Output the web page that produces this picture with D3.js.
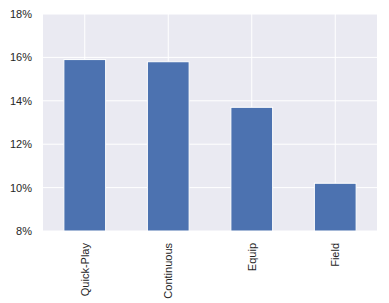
<!DOCTYPE html>
<html>
<head>
<meta charset="utf-8">
<script src="https://cdn.jsdelivr.net/npm/d3@7"></script>
<style>
  html, body { margin: 0; padding: 0; background: #fff; }
  svg { display: block; }
  text { font-family: "Liberation Sans", Arial, sans-serif; fill: #262626; }
</style>
</head>
<body>
<div id="chart"></div>
<script>
// Data
const categories = ['Quick-Play', 'Continuous', 'Equip', 'Field'];
const values = [15.9, 15.8, 13.7, 10.2];
const yTicks = [8, 10, 12, 14, 16, 18];

const width = 389, height = 303;
const margin = { top: 14, right: 12, bottom: 72, left: 43 };
const innerW = width - margin.left - margin.right;
const innerH = height - margin.top - margin.bottom;

const svg = d3.select('#chart').append('svg')
    .attr('width', width)
    .attr('height', height);

const g = svg.append('g')
    .attr('transform', `translate(${margin.left},${margin.top})`);

const x = d3.scaleBand()
    .domain(categories)
    .range([0, innerW])
    .paddingInner(0.5)
    .paddingOuter(0.25);

const y = d3.scaleLinear()
    .domain([8, 18])
    .range([innerH, 0]);

// background
g.append('rect')
    .attr('width', innerW)
    .attr('height', innerH)
    .attr('fill', '#eaeaf2');

// grid lines
g.selectAll('.hgrid').data(yTicks).enter().append('line')
    .attr('x1', 0).attr('x2', innerW)
    .attr('y1', d => y(d)).attr('y2', d => y(d))
    .attr('stroke', '#fff').attr('stroke-width', 1);

g.selectAll('.vgrid').data(categories).enter().append('line')
    .attr('y1', 0).attr('y2', innerH)
    .attr('x1', d => x(d) + x.bandwidth() / 2)
    .attr('x2', d => x(d) + x.bandwidth() / 2)
    .attr('stroke', '#fff').attr('stroke-width', 1);

// bars
g.selectAll('.bar').data(values).enter().append('rect')
    .attr('x', (d, i) => x(categories[i]))
    .attr('y', d => y(d))
    .attr('width', x.bandwidth())
    .attr('height', d => innerH - y(d))
    .attr('fill', '#4c72b0')
    .attr('stroke', '#fff')
    .attr('stroke-width', 1);

// y axis
const yAxis = g.append('g')
    .call(d3.axisLeft(y).tickValues(yTicks).tickFormat(d => d + '%').tickSize(0).tickPadding(11));
yAxis.select('.domain').remove();
yAxis.selectAll('text')
    .attr('font-size', 11)
    .attr('fill', '#262626')
    .style('font-family', '"Liberation Sans", Arial, sans-serif');

// x axis
const xAxis = g.append('g')
    .attr('transform', `translate(0,${innerH})`)
    .call(d3.axisBottom(x).tickSize(0));
xAxis.select('.domain').remove();
xAxis.selectAll('text')
    .attr('font-size', 11)
    .attr('fill', '#262626')
    .style('font-family', '"Liberation Sans", Arial, sans-serif')
    .attr('transform', 'rotate(-90)')
    .attr('text-anchor', 'end')
    .attr('x', -12)
    .attr('y', 0)
    .attr('dy', '0.35em');
</script>
</body>
</html>
